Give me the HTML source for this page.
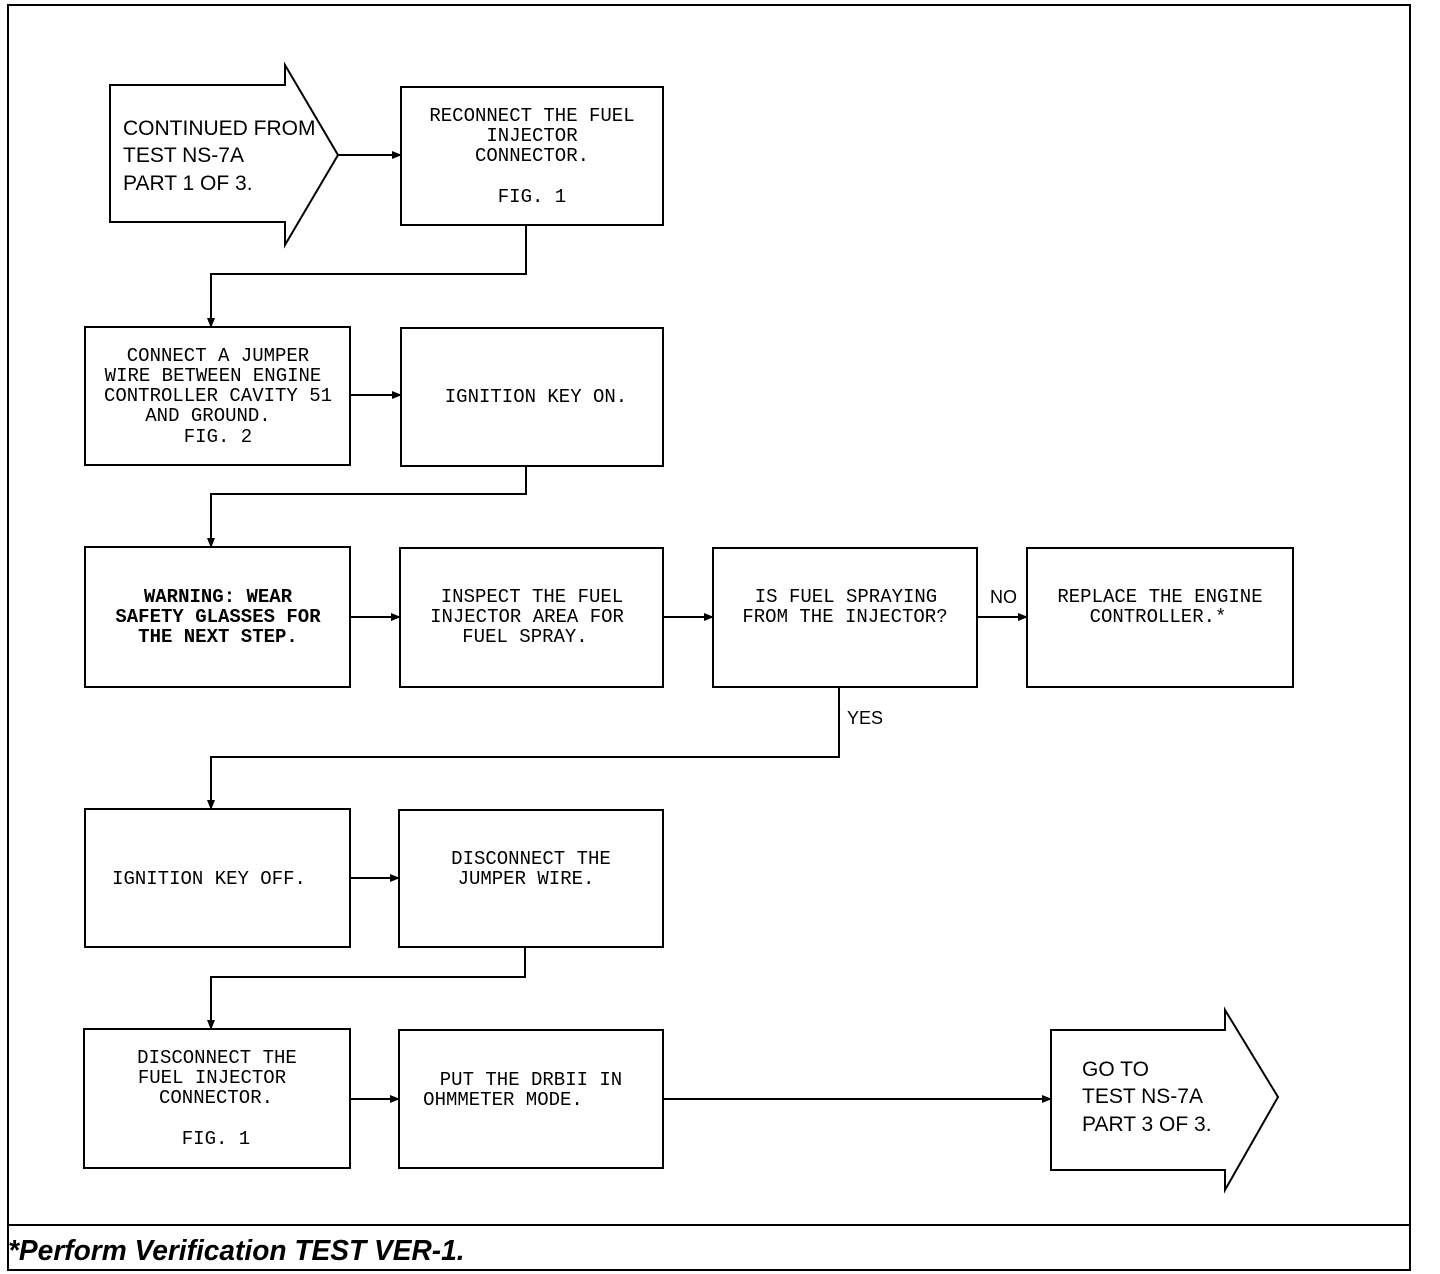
<!DOCTYPE html>
<html><head><meta charset="utf-8"><style>
html,body{margin:0;padding:0;background:#fff;}
svg{display:block}
.t{font-family:"Liberation Mono",monospace;font-size:19px;fill:#000}
.s{font-family:"Liberation Sans",sans-serif;font-size:21px;fill:#000}
</style></head><body>
<svg width="1440" height="1274" viewBox="0 0 1440 1274" xmlns="http://www.w3.org/2000/svg">
<defs><marker id="a" markerWidth="10" markerHeight="8" refX="9" refY="4" orient="auto" markerUnits="userSpaceOnUse"><path d="M0,0 L10,4 L0,8 z" fill="#000"/></marker></defs>
<g fill="none" stroke="#000" stroke-width="2">
<rect x="8" y="5" width="1402" height="1265"/>
<line x1="8" y1="1225" x2="1410" y2="1225"/>
<path d="M110,85 H285 V65 L338,155 L285,245 V222 H110 Z"/>
<path d="M1051,1030 H1225 V1010 L1278,1097 L1225,1190 V1170 H1051 Z"/>
<rect x="401" y="87" width="262" height="138"/>
<rect x="85" y="327" width="265" height="138"/>
<rect x="401" y="328" width="262" height="138"/>
<rect x="85" y="547" width="265" height="140"/>
<rect x="400" y="548" width="263" height="139"/>
<rect x="713" y="548" width="264" height="139"/>
<rect x="1027" y="548" width="266" height="139"/>
<rect x="85" y="809" width="265" height="138"/>
<rect x="399" y="810" width="264" height="137"/>
<rect x="84" y="1029" width="266" height="139"/>
<rect x="399" y="1030" width="264" height="138"/>
<line x1="338" y1="155" x2="401" y2="155" marker-end="url(#a)"/>
<polyline points="526,225 526,274 211,274 211,327" marker-end="url(#a)"/>
<line x1="350" y1="395" x2="401" y2="395" marker-end="url(#a)"/>
<polyline points="526,466 526,494 211,494 211,547" marker-end="url(#a)"/>
<line x1="350" y1="617" x2="400" y2="617" marker-end="url(#a)"/>
<line x1="663" y1="617" x2="713" y2="617" marker-end="url(#a)"/>
<line x1="977" y1="617" x2="1027" y2="617" marker-end="url(#a)"/>
<polyline points="839,687 839,757 211,757 211,809" marker-end="url(#a)"/>
<line x1="350" y1="878" x2="399" y2="878" marker-end="url(#a)"/>
<polyline points="525,947 525,977 211,977 211,1029" marker-end="url(#a)"/>
<line x1="350" y1="1099" x2="399" y2="1099" marker-end="url(#a)"/>
<line x1="663" y1="1099" x2="1051" y2="1099" marker-end="url(#a)"/>
</g>
<g class="s">
<text x="123" y="135">CONTINUED FROM</text>
<text x="123" y="162">TEST NS-7A</text>
<text x="123" y="190">PART 1 OF 3.</text>
<text x="1082" y="1076">GO TO</text>
<text x="1082" y="1103">TEST NS-7A</text>
<text x="1082" y="1131">PART 3 OF 3.</text>
<text x="990" y="603" font-size="18">NO</text>
<text x="847" y="724" font-size="18">YES</text>
</g>
<g class="t" text-anchor="middle">
<text x="532" y="121">RECONNECT THE FUEL</text>
<text x="532" y="141">INJECTOR</text>
<text x="532" y="161">CONNECTOR.</text>
<text x="532" y="202">FIG. 1</text>
<text x="218" y="361">CONNECT A JUMPER</text>
<text x="213" y="381">WIRE BETWEEN ENGINE</text>
<text x="218" y="401">CONTROLLER CAVITY 51</text>
<text x="208" y="421">AND GROUND.</text>
<text x="218" y="442">FIG. 2</text>
<text x="536" y="402">IGNITION KEY ON.</text>
<text x="218" y="602" font-weight="bold">WARNING: WEAR</text>
<text x="218" y="622" font-weight="bold">SAFETY GLASSES FOR</text>
<text x="218" y="642" font-weight="bold">THE NEXT STEP.</text>
<text x="532" y="602">INSPECT THE FUEL</text>
<text x="527" y="622">INJECTOR AREA FOR</text>
<text x="525" y="642">FUEL SPRAY.</text>
<text x="846" y="602">IS FUEL SPRAYING</text>
<text x="845" y="622">FROM THE INJECTOR?</text>
<text x="1160" y="602">REPLACE THE ENGINE</text>
<text x="1158" y="622">CONTROLLER.*</text>
<text x="209" y="884">IGNITION KEY OFF.</text>
<text x="531" y="864">DISCONNECT THE</text>
<text x="526" y="884">JUMPER WIRE.</text>
<text x="217" y="1063">DISCONNECT THE</text>
<text x="212" y="1083">FUEL INJECTOR</text>
<text x="216" y="1103">CONNECTOR.</text>
<text x="216" y="1144">FIG. 1</text>
<text x="531" y="1085">PUT THE DRBII IN</text>
<text x="503" y="1105">OHMMETER MODE.</text>
</g>
<text x="8" y="1260" font-family="Liberation Sans,sans-serif" font-size="29" font-weight="bold" font-style="italic" transform="translate(8,0) scale(0.97,1) translate(-8,0)">*Perform Verification TEST VER-1.</text>
</svg>
</body></html>
